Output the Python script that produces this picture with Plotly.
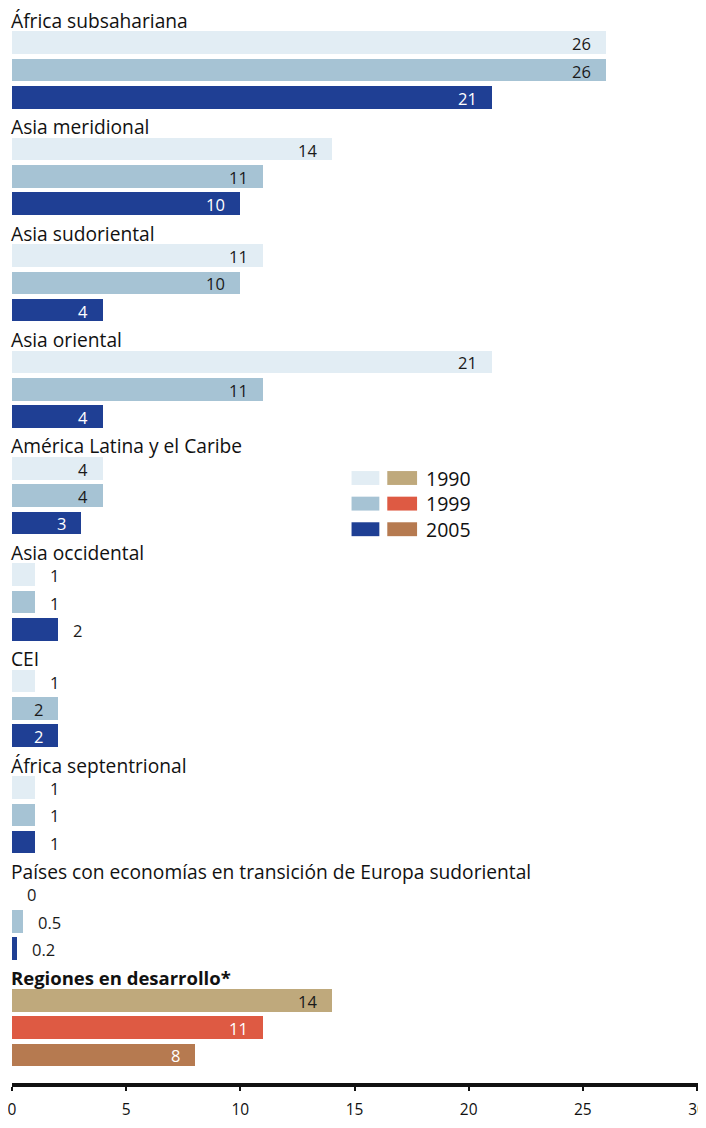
import plotly.graph_objects as go

regions = [
    "África subsahariana",
    "Asia meridional",
    "Asia sudoriental",
    "Asia oriental",
    "América Latina y el Caribe",
    "Asia occidental",
    "CEI",
    "África septentrional",
    "Países con economías en transición de Europa sudoriental",
    "Regiones en desarrollo*",
]
years = ["1990", "1999", "2005"]
values_1990 = [26, 14, 11, 21, 4, 1, 1, 1, 0, 14]
values_1999 = [26, 11, 10, 11, 4, 1, 2, 1, 0.5, 11]
values_2005 = [21, 10, 4, 4, 3, 2, 2, 1, 0.2, 8]

# styling
region_colors = ["#e2edf4", "#a6c3d4", "#1f3f94"]
total_colors = ["#bfa97c", "#de5a43", "#b67a50"]
region_text = ["#1a1a1a", "#1a1a1a", "#ffffff"]
total_text = ["#1a1a1a", "#ffffff", "#ffffff"]
# which labels sit inside the bar end (per region, per year)
label_inside = [
    [1, 1, 1], [1, 1, 1], [1, 1, 1], [1, 1, 1], [1, 1, 1],
    [0, 0, 0], [0, 1, 1], [0, 0, 0], [0, 0, 0], [1, 1, 1],
]

FONT = "Open Sans"
PAGE = 8             # html body margin: keep the page inside the window
W, H = 706 - PAGE, 1128 - 2 * PAGE
M_L, M_R, M_T, M_B = 10 - PAGE, 0, 0, 29
PLOT_H = H - M_T - M_B
PLOT_W = W - M_L - M_R
UNIT = 27.5          # px per bar slot
FIRST = 43 - PAGE    # px centre of the first bar
GROUP = 3.898        # slots per region block
X_MAX = PLOT_W / 23.0

series = [values_1990, values_1999, values_2005]
last = len(regions) - 1

fig = go.Figure()
annotations = []
for k, (year, vals) in enumerate(zip(years, series)):
    ys = [g * GROUP + k for g in range(len(regions))]
    colors = [total_colors[k] if g == last else region_colors[k] for g in range(len(regions))]
    fig.add_trace(
        go.Bar(
            x=vals,
            y=ys,
            orientation="h",
            width=0.83,
            marker={"color": colors, "line": {"width": 0}},
            name=year,
            showlegend=False,
            hoverinfo="x",
        )
    )
    for g, v in enumerate(vals):
        inside = label_inside[g][k]
        if inside:
            color = total_text[k] if g == last else region_text[k]
        else:
            color = "#1a1a1a"
        annotations.append(
            dict(
                x=v,
                y=ys[g],
                xref="x",
                yref="y",
                text=f"{v:g}",
                showarrow=False,
                xanchor="right" if inside else "left",
                yanchor="middle",
                xshift=-13 if inside else 13,
                yshift=-1,
                font={"family": FONT, "size": 16.5, "color": color},
            )
        )

for g, name in enumerate(regions):
    annotations.append(
        dict(
            x=0,
            y=g * GROUP - 0.82,
            xref="x",
            yref="y",
            text=f"<b>{name}</b>" if g == last else name,
            showarrow=False,
            xanchor="left",
            yanchor="middle",
            xshift=-3,
            font={"family": FONT, "size": 18.5 if g == last else 19.2, "color": "#111111"},
        )
    )


def px_x(px):
    return (px - PAGE - M_L) / PLOT_W


def px_y(py):
    return 1 - (py - PAGE - M_T) / PLOT_H


# legend drawn by hand: two swatches per year
shapes = []
for k, year in enumerate(years):
    cy = 481.5 + k * 25.8
    for (x0, x1), col in zip([(352, 380), (388, 418)], [region_colors[k], total_colors[k]]):
        shapes.append(
            dict(
                type="rect",
                xref="paper",
                yref="paper",
                x0=px_x(x0),
                x1=px_x(x1),
                y0=px_y(cy - 7),
                y1=px_y(cy + 7),
                fillcolor=col,
                line={"width": 0},
            )
        )
    annotations.append(
        dict(
            x=px_x(425),
            y=px_y(cy),
            xref="paper",
            yref="paper",
            text=year,
            showarrow=False,
            xanchor="left",
            yanchor="middle",
            font={"family": FONT, "size": 19.5, "color": "#111111"},
        )
    )

y_top = -FIRST / UNIT
y_bottom = (PLOT_H - FIRST) / UNIT

fig.update_layout(
    width=W,
    height=H,
    margin={"l": M_L, "r": M_R, "t": M_T, "b": M_B},
    paper_bgcolor="white",
    plot_bgcolor="white",
    font={"family": FONT, "color": "#111111"},
    bargap=0,
    annotations=annotations,
    shapes=shapes,
    xaxis={
        "range": [0, X_MAX],
        "tickvals": [0, 5, 10, 15, 20, 25, 30],
        "ticks": "outside",
        "ticklen": 4,
        "tickwidth": 1.5,
        "tickcolor": "#111111",
        "showline": True,
        "linewidth": 4,
        "linecolor": "#111111",
        "showgrid": False,
        "zeroline": False,
        "ticklabelstandoff": 5,
        "ticklabeloverflow": "allow",
        "tickfont": {"family": FONT, "size": 15.5, "color": "#111111"},
        "fixedrange": True,
    },
    yaxis={
        "range": [y_bottom, y_top],
        "visible": False,
        "showgrid": False,
        "zeroline": False,
        "fixedrange": True,
    },
)

fig.write_html("out.html")
